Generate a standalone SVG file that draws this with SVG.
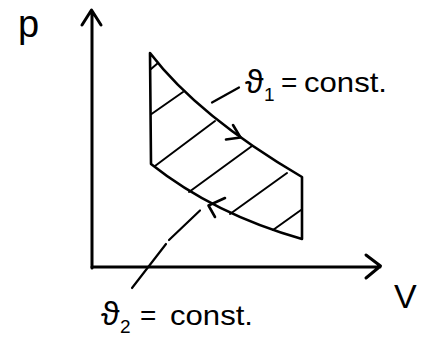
<svg xmlns="http://www.w3.org/2000/svg" width="428" height="338" viewBox="0 0 428 338">
<style>
.ax{fill:none;stroke:#000;stroke-width:3;stroke-linecap:round;stroke-linejoin:round}
.cv{fill:none;stroke:#000;stroke-width:2.6;stroke-linecap:round;stroke-linejoin:round}
.ht{fill:none;stroke:#000;stroke-width:2;stroke-linecap:round}
.ld{fill:none;stroke:#000;stroke-width:2.2;stroke-linecap:round}
text{font-family:"Liberation Sans","DejaVu Sans",sans-serif;fill:#000}
</style>
<rect width="428" height="338" fill="#fff"/>
<g id="axes">
<path class="ax" d="M92,268 V11 M82,25 L91.5,10 L101,25"/>
<path class="ax" d="M92,267 H380 M366,255 L380.5,266 L366,278"/>
</g>
<g id="cycle">
<path class="cv" d="M150,53 Q198,116 302,177 V239 Q214,214 151,164 Z"/>
</g>
<g id="hatching">
<path class="ht" d="M151,69 L158,63 M151.5,114 L183,92 M155,166 L215,121 M189,192 L252,146 M230,214 L287,173 M273,230 L301,210"/>
</g>
<g id="connectors">
<path class="cv" d="M233,125 L240.5,137.5 L226,139.5"/>
<path class="cv" d="M225,198 L208.5,205.5 L215,217"/>
<path class="ld" d="M212,102.5 L239,87.5"/>
<path class="ld" d="M200,210.5 L169,240 M166,244 L132,288"/>
</g>
<g id="label-p"><text x="18" y="37" font-size="38">p</text></g>
<g id="label-V"><text x="394" y="308" font-size="34">V</text></g>
<g id="label-theta1">
<text x="245" y="93" font-size="34">ϑ</text>
<text x="264" y="101" font-size="19">1</text>
<text x="281" y="92" font-size="28">=</text>
<text x="304" y="92" font-size="28" textLength="83" lengthAdjust="spacingAndGlyphs">const.</text>
</g>
<g id="label-theta2">
<text x="101" y="325" font-size="34">ϑ</text>
<text x="120" y="333" font-size="19">2</text>
<text x="140" y="325" font-size="28">=</text>
<text x="170" y="325" font-size="28" textLength="83" lengthAdjust="spacingAndGlyphs">const.</text>
</g>
</svg>
